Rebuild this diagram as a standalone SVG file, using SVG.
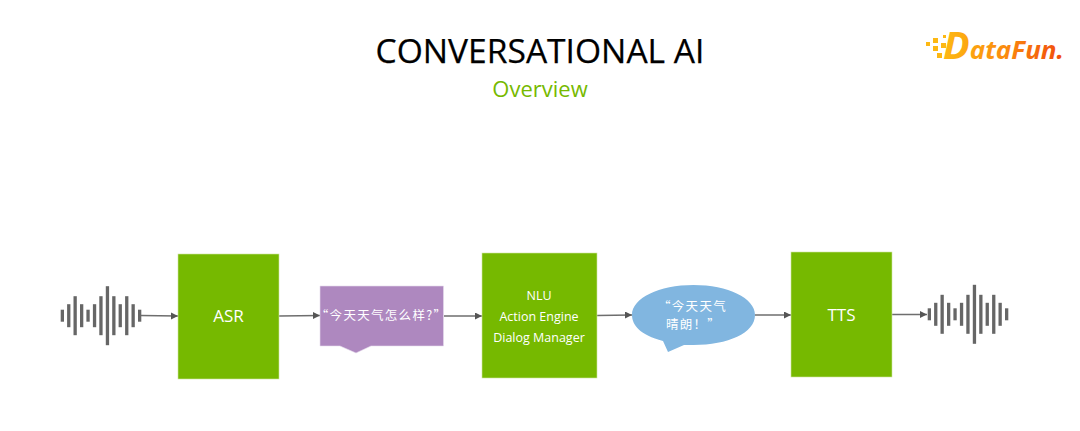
<svg xmlns="http://www.w3.org/2000/svg" width="1080" height="431" viewBox="0 0 1080 431">
<defs>
<style>
.t{font-family:"Open Sans","Noto Sans","Liberation Sans",sans-serif;text-anchor:middle}
.box{fill:#76b900;stroke:#cfe5a0;stroke-width:.6}
.lbl{fill:#fff;font-size:17px}
.sm{fill:#fff;font-size:12.5px}
.zh{fill:#fff;font-size:12.5px;letter-spacing:1.3px;font-family:"Noto Sans CJK SC","Noto Sans",sans-serif;text-anchor:middle}
.c{fill:none;stroke:#6e6e6e;stroke-width:1.5;marker-end:url(#a)}
.w{fill:#666}
.px{fill:#fdb813}
</style>
<marker id="a" markerUnits="userSpaceOnUse" markerWidth="8" markerHeight="8" refX="7" refY="3.500" orient="auto"><path d="M0 0L7 3.500L0 7z" fill="#555"/></marker>
<linearGradient id="g" gradientUnits="userSpaceOnUse" x1="944" y1="0" x2="1064" y2="0"><stop offset="0" stop-color="#fdb813"/><stop offset=".5" stop-color="#fb8c0e"/><stop offset="1" stop-color="#f04a0c"/></linearGradient>
<g id="wave">
<rect class="w" x="-1.600" y="-6" width="3.300" height="12"/>
<rect class="w" x="4.800" y="-11.500" width="3.300" height="23"/>
<rect class="w" x="11.200" y="-19.500" width="3.300" height="39"/>
<rect class="w" x="17.700" y="-11.500" width="3.300" height="23"/>
<rect class="w" x="24.100" y="-6" width="3.300" height="12"/>
<rect class="w" x="30.600" y="-11.500" width="3.300" height="23"/>
<rect class="w" x="37" y="-19.500" width="3.300" height="39"/>
<rect class="w" x="43.500" y="-29.500" width="3.300" height="59"/>
<rect class="w" x="49.900" y="-19.500" width="3.300" height="39"/>
<rect class="w" x="56.300" y="-11.500" width="3.300" height="23"/>
<rect class="w" x="62.800" y="-19.500" width="3.300" height="39"/>
<rect class="w" x="69.200" y="-11.500" width="3.300" height="23"/>
<rect class="w" x="75.700" y="-6" width="3.300" height="12"/>
</g>
</defs>
<rect width="1080" height="431" fill="#fff"/>
<text class="t" x="540" y="63" font-size="33.600" fill="#000" stroke="#000" stroke-width=".25">CONVERSATIONAL AI</text>
<text class="t" x="540" y="97" font-size="22" fill="#76b900">Overview</text>
<g id="logo">
<rect class="px" x="926" y="42" width="4" height="4"/><rect class="px" x="933" y="38" width="5" height="5"/><rect class="px" x="933" y="46" width="5" height="5"/><rect class="px" x="941" y="43" width="5" height="5"/><rect class="px" x="937" y="53" width="5" height="5"/><rect class="px" x="943" y="35" width="3" height="3"/>
<text x="943" y="59" font-family="Open Sans,Liberation Sans,sans-serif" font-weight="700" font-style="italic" fill="url(#g)" textLength="121" lengthAdjust="spacingAndGlyphs"><tspan font-size="38">D</tspan><tspan font-size="25">ataFun.</tspan></text>
</g>
<g id="connectors">
<path class="c" d="M141 315.500L178 316"/>
<path class="c" d="M279 316L320 315.500"/>
<path class="c" d="M444 316L482 316"/>
<path class="c" d="M597 315.500L632 315"/>
<path class="c" d="M755 315L791 315"/>
<path class="c" d="M892 314.500L927 314.500"/>
</g>
<g id="wave-in"><use href="#wave" x="62.300" y="315.700"/></g>
<g id="asr"><rect class="box" x="178" y="254" width="101" height="125"/><text class="t lbl" x="228.500" y="322">ASR</text></g>
<g id="question"><path d="M320 286H443.500V346H371L356 353L340 346H320z" fill="#ae88bf" stroke="#e6dbec" stroke-width=".6"/><text class="zh" x="381.500" y="320">“今天天气怎么样?”</text></g>
<g id="nlu"><rect class="box" x="482" y="253" width="115" height="125"/>
<text class="t sm" x="539" y="300">NLU</text><text class="t sm" x="539" y="321">Action Engine</text><text class="t sm" x="539" y="342">Dialog Manager</text></g>
<g id="answer"><path d="M663 341C640 335 632 325 632 315C632 298 659 285 693.500 285C728 285 755 298 755 315C755 333 728 345 693.500 345C689 345 686 345 684 345L668 352z" fill="#81b6e0"/>
<text class="zh" x="692.500" y="311">“今天天气</text><text class="zh" x="693.500" y="329">晴朗！”</text></g>
<g id="tts"><rect class="box" x="791" y="252" width="101" height="125"/><text class="t lbl" x="841.500" y="321">TTS</text></g>
<g id="wave-out"><use href="#wave" x="929.300" y="314.300"/></g>
</svg>
